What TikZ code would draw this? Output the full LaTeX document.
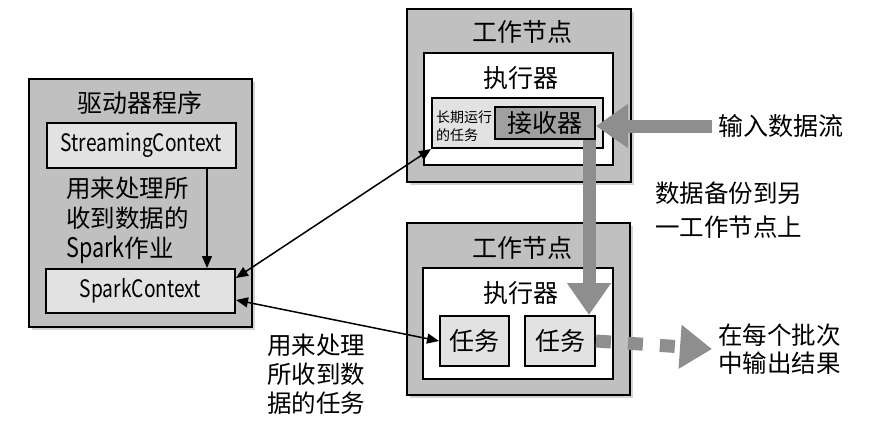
\documentclass[tikz,border=0pt]{standalone}
\usepackage{fontspec}
\setmainfont{Noto Sans CJK SC}
\newfontfamily\condfont[FakeStretch=0.8]{Noto Sans CJK SC}
\usepackage{tikz}
\usetikzlibrary{shapes,arrows.meta,shadows,positioning}
\definecolor{outergray}{HTML}{C0C0C0}
\definecolor{innergray}{HTML}{E2E2E2}
\definecolor{recvgray}{HTML}{A0A0A0}
\definecolor{flowgray}{HTML}{8E8E8E}
\tikzstyle{outer} = [rectangle, draw, line width=2pt, fill=outergray,
  drop shadow={opacity=0.35, shadow xshift=3pt, shadow yshift=-3pt}]
\tikzstyle{execbox} = [rectangle, draw, line width=2pt, fill=white]
\tikzstyle{inner} = [rectangle, draw, line width=2pt, fill=innergray, inner sep=0pt]
\tikzstyle{title} = [font=\fontsize{25}{28}\selectfont, inner sep=0pt]
\tikzstyle{txt} = [font=\fontsize{24.5}{30}\selectfont, align=left, inner sep=0pt]
\tikzstyle{ctx} = [inner, minimum width=189pt, font=\condfont\fontsize{24}{26}\selectfont]
\tikzstyle{line} = [draw, {Triangle[length=12pt,width=10pt]}-{Triangle[length=12pt,width=10pt]}, line width=1.5pt]
\tikzstyle{thinline} = [draw, -{Triangle[length=12pt,width=10pt]}, line width=1.5pt]
\tikzstyle{flow} = [draw=flowgray, line width=13pt, -{Triangle[length=32pt,width=42pt]}, flowgray]

\begin{document}
\begin{tikzpicture}[x=1pt, y=-1pt]

      \useasboundingbox (0,0) rectangle (879,432);

      %
      % Driver
      %

      \node [outer, minimum width=223pt, minimum height=248pt] (driver) at (140.5,203) {};
      \node [title] (dtitle) at (140,103) {驱动器程序};
      \node [ctx, minimum height=45pt] (sctx) at (141.5,145.5) {StreamingContext};
      \node [ctx, minimum height=44pt] (spark) at (140.5,291) {SparkContext};
      \node [txt, anchor=west] (job) at (66,220) {用来处理所\\收到数据的\\{\condfont\fontsize{27}{30}\selectfont Spark}作业};

      \path [thinline] ([xshift=-30pt]sctx.south east) -- ([xshift=-30pt]sctx.south east |- spark.north);

      %
      % Worker with receiver
      %

      \node [outer, minimum width=224pt, minimum height=173pt] (worker1) at (519,95.5) {};
      \node [title] (w1title) at (522,32) {工作节点};
      \node [execbox, minimum width=189pt, minimum height=112pt] (exec1) at (518.5,109) {};
      \node [title] (e1title) at (521,78) {执行器};
      \node [inner, minimum width=171pt, minimum height=50pt] (longtask) at (517.5,123) {};
      \node [font=\fontsize{14}{18}\selectfont, align=left, inner sep=0pt, anchor=west] (ltlabel) at (436,126) {长期运行\\的任务};
      \node [inner, fill=recvgray, minimum width=100pt, minimum height=32pt, font=\fontsize{25}{28}\selectfont] (recv) at (545,123) {接收器};

      %
      % Worker with tasks
      %

      \node [outer, minimum width=223pt, minimum height=172pt] (worker2) at (518.5,309) {};
      \node [title] (w2title) at (522,248) {工作节点};
      \node [execbox, minimum width=190pt, minimum height=111pt] (exec2) at (518,323.5) {};
      \node [title] (e2title) at (521,293) {执行器};
      \node [inner, minimum width=69pt, minimum height=50pt, font=\fontsize{25}{28}\selectfont] (task1) at (474.5,341) {任务};
      \node [inner, minimum width=70pt, minimum height=50pt, font=\fontsize{25}{28}\selectfont] (task2) at (560,341) {任务};

      %
      % Labels
      %

      \node [title, anchor=west, inner sep=6pt] (input) at (712,126) {输入数据流};
      \node [txt, font=\fontsize{24.5}{34}\selectfont, anchor=west] (backup) at (655,210) {数据备份到另\\一工作节点上};
      \node [txt, font=\fontsize{24.5}{28}\selectfont, anchor=west, inner sep=6pt] (output) at (712,349) {在每个批次\\中输出结果};
      \node [txt, font=\fontsize{24.5}{29}\selectfont] (tasktxt) at (316,374) {用来处理\\所收到数\\据的任务};

      \path [line] ([yshift=13pt]spark.east) -- (longtask.south west);
      \path [line] ([yshift=-9pt]spark.east) -- (task1.west);

      \path [flow] (input.west) -- (input.west -| recv.east);
      \path [flow] ([xshift=-7pt]recv.south east) -- ([xshift=-7pt]recv.south east |- task2.north);
      \path [flow, dash pattern=on 15pt off 17pt] (task2.east) -- (output.west);

    \end{tikzpicture}
\end{document}
